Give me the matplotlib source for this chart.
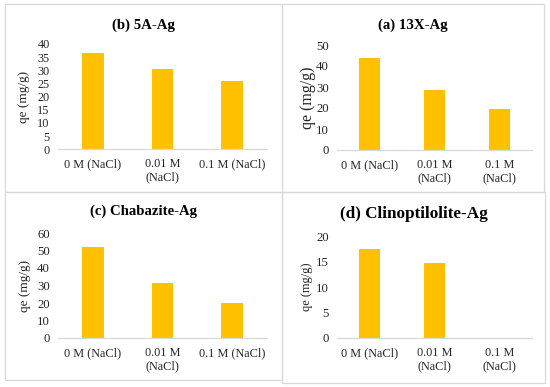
import matplotlib
matplotlib.use("Agg")
import matplotlib.pyplot as plt
from matplotlib.patches import Rectangle
import numpy as np

plt.rcParams['font.family'] = ['Liberation Serif', 'DejaVu Serif']

# ---- data ----
titles = ["(b) 5A-Ag", "(a) 13X-Ag", "(c) Chabazite-Ag", "(d) Clinoptilolite-Ag"]
labels_b = ["0 M (NaCl)", "0.01 M\n(NaCl)", "0.1 M (NaCl)"]
labels_a = ["0 M (NaCl)", "0.01 M\n(NaCl)", "0.1 M\n(NaCl)"]
labels_c = ["0 M (NaCl)", "0.01 M\n(NaCl)", "0.1 M (NaCl)"]
labels_d = ["0 M (NaCl)", "0.01 M\n(NaCl)", "0.1 M\n(NaCl)"]
values_b = [36.7, 30.5, 26.1]
values_a = [43.7, 28.6, 19.7]
values_c = [51.8, 31.4, 20.0]
values_d = [17.6, 14.8, 0.0]
yticks_b = [0, 5, 10, 15, 20, 25, 30, 35, 40]
yticks_a = [0, 10, 20, 30, 40, 50]
yticks_c = [0, 10, 20, 30, 40, 50, 60]
yticks_d = [0, 5, 10, 15, 20]
ylabel = "qe (mg/g)"

W, H = 550, 387
fig = plt.figure(figsize=(W / 100, H / 100), dpi=100)
fig.patch.set_facecolor('white')

def px_axes(l, t, r, b):
    return fig.add_axes([l / W, 1 - b / H, (r - l) / W, (b - t) / H])

# panel borders (pixel boxes)
panels = [(5, 4, 282, 192), (282, 4, 544, 192), (5, 192, 282, 380), (282, 192, 545, 383)]
for (l, t, r, b) in panels:
    fig.add_artist(Rectangle((l / W, 1 - b / H), (r - l) / W, (b - t) / H,
                             transform=fig.transFigure, fill=False,
                             edgecolor='#D9D9D9', linewidth=0.9))

specs = [
    # axes box (l, t, r, b), labels, values, yticks, title size, title y, ylabel size, ylabel x, ytick size
    ((58, 44, 267, 149.3), labels_b, values_b, yticks_b, 10.7, 25.5, 9.5, 24, 8.8),
    ((337, 45, 532, 150), labels_a, values_a, yticks_a, 10.7, 25.5, 11.5, 308, 9.2),
    ((58, 233, 267, 338), labels_c, values_c, yticks_c, 10.6, 211, 9.5, 25, 9.2),
    ((337, 236.3, 532, 338), labels_d, values_d, yticks_d, 12.3, 214, 9, 307, 9.2),
]

for i, (box, labs, vals, yt, tsize, ty, ysize, ylx, ytsize) in enumerate(specs):
    ax = px_axes(*box)
    x = np.arange(len(vals))
    ax.bar(x, vals, width=0.31, color='#FFC000', zorder=2)
    ax.set_xlim(-0.5, len(vals) - 0.5)
    ax.set_ylim(yt[0], yt[-1])
    ax.set_yticks(yt)
    ax.set_xticks(x)
    ax.set_xticklabels(labs, fontsize=8.8, linespacing=1.1, color='#262626')
    ax.tick_params(axis='y', length=0, pad=6, labelsize=ytsize, labelcolor='#262626')
    ax.tick_params(axis='x', length=0, pad=6.5)
    for s in ['top', 'right', 'left']:
        ax.spines[s].set_visible(False)
    ax.spines['bottom'].set_color('#D9D9D9')
    ax.spines['bottom'].set_linewidth(0.9)
    ax.patch.set_alpha(0)
    l, t, r, b = panels[i]
    fig.text(((l + r) / 2) / W, 1 - ty / H, titles[i], ha='center', va='center',
             fontsize=tsize, fontweight='bold', color='black')
    fig.text(ylx / W, 1 - ((box[1] + box[3]) / 2) / H, ylabel, rotation=90,
             ha='center', va='center', fontsize=ysize, color='#262626')

fig.savefig('out.png', dpi=100, facecolor='white')
